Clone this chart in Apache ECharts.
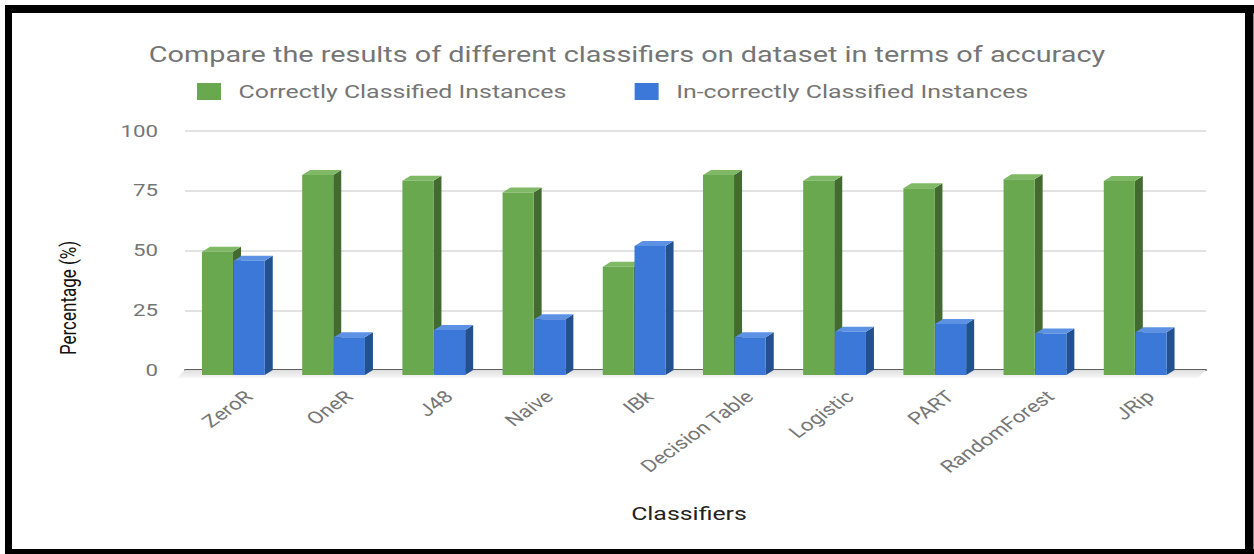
<!DOCTYPE html>
<html>
<head>
<meta charset="utf-8">
<script src="https://cdn.jsdelivr.net/npm/echarts@6/dist/echarts.min.js"></script>
<style>
  html, body { margin: 0; padding: 0; background: #ffffff; overflow: hidden; }
  /* the chart is laid out on a narrower canvas and widened to 1254px */
  #chart { width: 957px; height: 554px; transform: scaleX(1.31034); transform-origin: 0 0; }
</style>
</head>
<body>
<div id="chart"></div>
<script>
// Classifier accuracy on the dataset (percent of instances)
const categories = ['ZeroR', 'OneR', 'J48', 'Naive', 'IBk', 'Decision Table', 'Logistic', 'PART', 'RandomForest', 'JRip'];
const correctPct = [51.6, 83.7, 81.3, 76.4, 45.3, 83.7, 81.3, 78.1, 81.9, 81.2];
const incorrectPct = [47.8, 15.8, 18.8, 23.3, 54.0, 15.8, 18.1, 21.3, 17.4, 17.9];
const yTicks = [0, 25, 50, 75, 100];
const seriesNames = ['Correctly Classified Instances', 'In-correctly Classified Instances'];

const STRETCH = 1254 / 957;           // horizontal widening applied by CSS
const px = v => v / STRETCH;          // screen-x pixels -> layout pixels

const FONT = 'Roboto, "Noto Sans", sans-serif';
const faces = [
  { front: '#6aa84f', side: '#436a30', top: '#7fb965' },
  { front: '#3c78d8', side: '#23508f', top: '#5d91e4' }
];
// pseudo-3D depth: back plane sits up and to the right of the front face
const DX = px(8), DY = 5;

function barRenderer(slot) {
  const face = faces[slot];
  return function (params, api) {
    const idx = api.value(0);
    const top = api.coord([idx, api.value(1)]);
    const base = api.coord([idx, 0]);
    const band = api.size([1, 0])[0];
    const w = band * 0.31;
    const pairCenter = top[0] - band * 0.156;
    const x0 = slot === 0 ? pairCenter - w - 0.25 : pairCenter + 0.25;
    const x1 = x0 + w;
    const ft = top[1] + DY, fb = base[1] + DY;
    return {
      type: 'group',
      children: [
        { type: 'polygon', shape: { points: [[x1, ft], [x1 + DX, top[1]], [x1 + DX, base[1]], [x1, fb]] },
          style: { fill: face.side } },
        { type: 'polygon', shape: { points: [[x0, ft], [x0 + DX, top[1]], [x1 + DX, top[1]], [x1, ft]] },
          style: { fill: face.top } },
        { type: 'rect', shape: { x: x0, y: ft, width: w, height: fb - ft },
          style: { fill: face.front } }
      ]
    };
  };
}

function floorRenderer(params, api) {
  const cs = params.coordSys;
  const y0 = api.coord([0, 0])[1];
  return {
    type: 'polygon',
    shape: { points: [[cs.x, y0], [cs.x + cs.width, y0], [cs.x + cs.width - DX, y0 + 8], [cs.x - DX, y0 + 8]] },
    style: {
      fill: new echarts.graphic.LinearGradient(0, 0, 0, 1, [
        { offset: 0, color: '#dedede' },
        { offset: 1, color: '#f7f7f7' }
      ])
    }
  };
}

// black frame around the whole figure
const frameRects = [
  { x: px(5), y: 5, width: px(1249), height: 8 },
  { x: px(5), y: 549, width: px(1249), height: 6 },
  { x: px(5), y: 5, width: px(7), height: 550 },
  { x: px(1245), y: 5, width: px(8.5), height: 550 }
].map(r => ({ type: 'rect', shape: r, style: { fill: '#000000' }, silent: true, z: 100 }));

const chart = echarts.init(document.getElementById('chart'), null, { renderer: 'svg' });

chart.setOption({
  backgroundColor: '#ffffff',
  animation: false,
  title: {
    text: 'Compare the results of different classifiers on dataset in terms of accuracy',
    left: 'center',
    top: 38,
    textStyle: { fontFamily: FONT, fontSize: 22, fontWeight: 'normal', color: '#757575' }
  },
  legend: {
    data: seriesNames,
    left: px(197),
    top: 82,
    padding: 0,
    itemWidth: px(24),
    itemHeight: 17,
    itemGap: px(68),
    icon: 'rect',
    textStyle: { fontFamily: FONT, fontSize: 19, color: '#757575', padding: [0, 0, 0, px(11)] }
  },
  grid: [
    { left: px(198.9), top: 131, width: px(1002), height: 239 },
    { left: px(185), top: 131, width: px(1021), height: 239 }
  ],
  xAxis: [
    {
      type: 'category',
      gridIndex: 0,
      data: categories,
      axisLine: { show: false },
      axisTick: { show: false },
      axisLabel: {
        rotate: 43,
        margin: 24,
        interval: 0,
        fontFamily: FONT,
        fontSize: 17,
        color: '#757575'
      }
    },
    {
      type: 'value',
      gridIndex: 1,
      min: 0,
      max: 1,
      axisLine: { show: true, lineStyle: { color: '#333333', width: 1.5 } },
      axisTick: { show: false },
      axisLabel: { show: false },
      splitLine: { show: false },
      name: 'Classifiers',
      nameLocation: 'middle',
      nameGap: 134,
      nameTextStyle: { fontFamily: FONT, fontSize: 19, color: '#222222', padding: [0, px(13), 0, 0] }
    }
  ],
  yAxis: [
    { type: 'value', gridIndex: 0, min: yTicks[0], max: yTicks[yTicks.length - 1], interval: 25, show: false },
    {
      type: 'value',
      gridIndex: 1,
      min: yTicks[0],
      max: yTicks[yTicks.length - 1],
      interval: 25,
      axisLine: { show: false },
      axisTick: { show: false },
      axisLabel: { margin: px(27), fontFamily: FONT, fontSize: 17, color: '#757575' },
      splitLine: { show: true, lineStyle: { color: '#d9d9d9', width: 1.5 } }
    }
  ],
  graphic: [
    {
      type: 'text',
      x: px(69),
      y: 298,
      rotation: Math.PI / 2,
      style: {
        text: 'Percentage (%)',
        fontFamily: FONT,
        fontSize: 17,
        fill: '#111111',
        align: 'center',
        verticalAlign: 'middle'
      }
    }
  ].concat(frameRects),
  series: [
    {
      type: 'custom',
      name: 'floor',
      xAxisIndex: 1,
      yAxisIndex: 1,
      z: 1,
      silent: true,
      data: [[0, 0]],
      renderItem: floorRenderer
    },
    {
      type: 'custom',
      name: seriesNames[0],
      xAxisIndex: 0,
      yAxisIndex: 0,
      z: 3,
      itemStyle: { color: faces[0].front },
      encode: { x: 0, y: 1 },
      data: correctPct.map((v, i) => [i, v]),
      renderItem: barRenderer(0)
    },
    {
      type: 'custom',
      name: seriesNames[1],
      xAxisIndex: 0,
      yAxisIndex: 0,
      z: 4,
      itemStyle: { color: faces[1].front },
      encode: { x: 0, y: 1 },
      data: incorrectPct.map((v, i) => [i, v]),
      renderItem: barRenderer(1)
    }
  ]
});
</script>
</body>
</html>
